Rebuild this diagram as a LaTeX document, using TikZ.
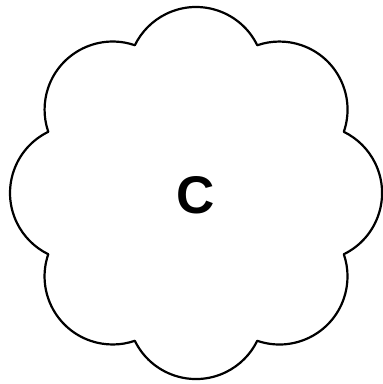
\documentclass[tikz,border=0pt]{standalone}
\usepackage{fontspec}
\setmainfont{Liberation Sans}
\begin{document}
\begin{tikzpicture}[x=1pt,y=1pt,
  cloudline/.style={draw=black,line width=2.2pt,line join=round},
  label/.style={inner sep=0pt,font=\fontsize{53}{53}\selectfont\bfseries}]
\useasboundingbox (0,0) rectangle (383,384);
\coordinate (ctr) at (196,191);
\draw[cloudline] ([shift={(-22.5:160)}]ctr)
  \foreach \k in {0,...,7} { arc[start angle={45*\k-64}, end angle={45*\k+64}, radius=68.1] } -- cycle;
\node[label] (c) at (195.5,188.5) {C};
\end{tikzpicture}
\end{document}
